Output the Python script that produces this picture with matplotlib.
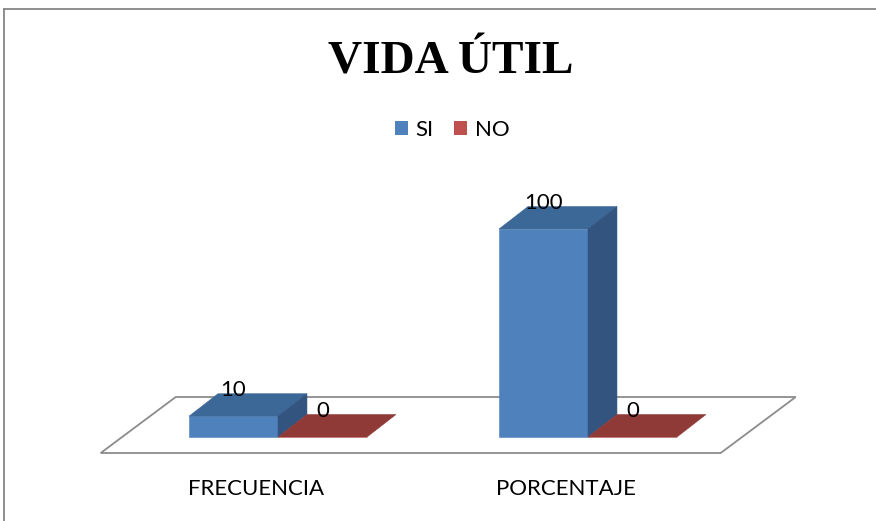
import matplotlib
matplotlib.use("Agg")
import matplotlib.pyplot as plt
from matplotlib.patches import Polygon, Patch
from matplotlib.lines import Line2D

# ---- data ----
categories = ["FRECUENCIA", "PORCENTAJE"]
series_names = ["SI", "NO"]
si_values = [10, 100]
no_values = [0, 0]
title = "VIDA ÚTIL"

# ---- style ----
W, H = 876, 521
front_colors = ["#4F81BD", "#C0504D"]
top_colors = ["#3C6898", "#8F3A37"]
side_colors = ["#32547F", "#7A302E"]
legend_colors = ["#4F81BD", "#C0504D"]
BAR_W = 0.287
DDX, DDY = 0.0934, 10.8          # bar depth offset (data units)
FLOOR_FDX, FLOOR_FDY = -0.072, -7.69
FLOOR_BDX, FLOOR_BDY = 0.170, 19.23
FONT = "Lato"

fig = plt.figure(figsize=(W / 100, H / 100), dpi=100)
ax = fig.add_axes([0, 0, 1, 1])
ax.set_xlim(-0.8968, 1.929)
ax.set_ylim(-40.38, 210.1)
ax.axis("off")

# floor
n = len(categories)
x_lo, x_hi = -0.5, n - 0.5
floor = Polygon([(x_lo + FLOOR_FDX, FLOOR_FDY), (x_hi + FLOOR_FDX, FLOOR_FDY),
                 (x_hi + FLOOR_BDX, FLOOR_BDY), (x_lo + FLOOR_BDX, FLOOR_BDY)],
                closed=True, facecolor="white", edgecolor="#8C8C8C", lw=1.3, zorder=1)
ax.add_patch(floor)

series = [si_values, no_values]
for i in range(n):
    for s, vals in enumerate(series):
        v = vals[i]
        xc = i + (s - 0.5) * BAR_W
        x0, x1 = xc - BAR_W / 2, xc + BAR_W / 2
        z = 2 + i * 2 + s * 0.5
        ax.bar([xc], [v], width=BAR_W, color=front_colors[s],
               edgecolor=front_colors[s], lw=0.4, zorder=z)
        top = Polygon([(x0, v), (x1, v), (x1 + DDX, v + DDY), (x0 + DDX, v + DDY)],
                      closed=True, facecolor=top_colors[s], edgecolor=top_colors[s],
                      lw=0.4, zorder=z)
        ax.add_patch(top)
        if v > 0:
            side = Polygon([(x1, 0), (x1, v), (x1 + DDX, v + DDY), (x1 + DDX, DDY)],
                           closed=True, facecolor=side_colors[s], edgecolor=side_colors[s],
                           lw=0.4, zorder=z)
            ax.add_patch(side)
        ax.text(xc, v + DDY + 1.9, str(v), ha="center", va="center",
                fontsize=16, family=FONT, color="black", zorder=10)

for i, c in enumerate(categories):
    ax.text(i + FLOOR_FDX, -24.8, c, ha="center", va="center",
            fontsize=16, family=FONT, color="black")

# title
fig.text(451 / W, 1 - 62 / H, title, ha="center", va="center",
         fontsize=34, fontweight="bold", family="Liberation Serif")

# legend
handles = [Patch(facecolor=legend_colors[k], edgecolor="none", label=series_names[k])
           for k in range(len(series_names))]
fig.legend(handles=handles, loc="center", bbox_to_anchor=(452 / W, 1 - 130 / H),
           ncol=2, frameon=False, prop={"family": FONT, "size": 16},
           handlelength=0.6, handleheight=0.6, handletextpad=0.35,
           columnspacing=0.9, borderpad=0)

# outer chart border (left and top visible)
fig.add_artist(Line2D([4.3 / W, 4.3 / W], [0, 1 - 9.3 / H], transform=fig.transFigure,
                      color="#868686", lw=1.3))
fig.add_artist(Line2D([4.3 / W, 1], [1 - 9.3 / H, 1 - 9.3 / H], transform=fig.transFigure,
                      color="#868686", lw=1.3))

fig.savefig("out.png", dpi=100, facecolor="white")
